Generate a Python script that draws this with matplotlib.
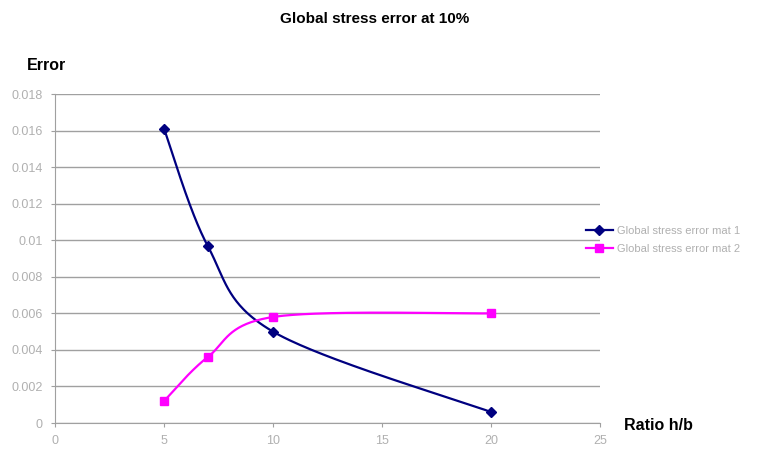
import numpy as np
import matplotlib
matplotlib.use("Agg")
import matplotlib.pyplot as plt
from matplotlib.lines import Line2D

plt.rcParams['font.family'] = ['Liberation Sans', 'DejaVu Sans']

ratio = [5, 7, 10, 20]
err_mat1 = [0.0161, 0.0097, 0.0050, 0.0006]
err_mat2 = [0.0012, 0.0036, 0.0058, 0.0060]
series_names = ["Global stress error mat 1", "Global stress error mat 2"]
y_ticks = [0, 0.002, 0.004, 0.006, 0.008, 0.01, 0.012, 0.014, 0.016, 0.018]
y_tick_labels = ["0", "0.002", "0.004", "0.006", "0.008", "0.01", "0.012", "0.014", "0.016", "0.018"]
x_ticks = [0, 5, 10, 15, 20, 25]

X_MAX, Y_MAX = 25, 0.018
AX_W_PX, AX_H_PX = 545, 329


def smooth(xs, ys, n=60):
    """Smoothed line through every point, built in screen proportions."""
    sx = np.asarray(xs, float) / X_MAX * AX_W_PX
    sy = np.asarray(ys, float) / Y_MAX * AX_H_PX
    px = np.concatenate([[sx[0]], sx, [sx[-1]]])
    py = np.concatenate([[sy[0]], sy, [sy[-1]]])
    outx, outy = [], []
    for i in range(1, len(px) - 2):
        p0 = np.array([px[i], py[i]])
        p3 = np.array([px[i + 1], py[i + 1]])
        c1 = p0 + (np.array([px[i + 1], py[i + 1]]) - np.array([px[i - 1], py[i - 1]])) / 6
        c2 = p3 - (np.array([px[i + 2], py[i + 2]]) - np.array([px[i], py[i]])) / 6
        t = np.linspace(0, 1, n)[:, None]
        b = ((1 - t) ** 3) * p0 + 3 * ((1 - t) ** 2) * t * c1 + 3 * (1 - t) * t ** 2 * c2 + t ** 3 * p3
        outx.extend(b[:, 0])
        outy.extend(b[:, 1])
    return np.array(outx) / AX_W_PX * X_MAX, np.array(outy) / AX_H_PX * Y_MAX


fig = plt.figure(figsize=(7.58, 4.53), dpi=100)
ax = fig.add_axes([55 / 758, 1 - 423 / 453, AX_W_PX / 758, AX_H_PX / 453])

navy = "#000080"
magenta = "#FF00FF"
grid_c = "#A0A0A0"
text_c = "#B0B0B0"

sx, sy = smooth(ratio, err_mat1)
ax.plot(sx, sy, color=navy, lw=1.6, zorder=3)
ax.plot(ratio, err_mat1, ls="none", marker="D", ms=5.5, color=navy, zorder=4)
sx, sy = smooth(ratio, err_mat2)
ax.plot(sx, sy, color=magenta, lw=1.6, zorder=3)
ax.plot(ratio, err_mat2, ls="none", marker="s", ms=6, color=magenta, zorder=4)

ax.set_xlim(0, X_MAX)
ax.set_ylim(0, Y_MAX)
ax.set_yticks(y_ticks)
ax.set_yticklabels(y_tick_labels)
ax.set_xticks(x_ticks)
ax.grid(axis="y", color=grid_c, lw=1)
ax.set_axisbelow(True)
for s in ["top", "right"]:
    ax.spines[s].set_visible(False)
for s in ["left", "bottom"]:
    ax.spines[s].set_color(grid_c)
ax.tick_params(axis="both", colors=grid_c, labelcolor=text_c, labelsize=9, length=3, pad=6)

fig.text(375 / 758, 1 - 19 / 453, "Global stress error at 10%", ha="center", va="center",
         fontsize=11, fontweight="bold")
fig.text(47 / 758, 1 - 65 / 453, "Error", ha="center", va="center", fontsize=11.5, fontweight="bold")
fig.text(658 / 758, 1 - 425 / 453, "Ratio h/b", ha="center", va="center", fontsize=11.5, fontweight="bold")

handles = [Line2D([], [], color=navy, marker="D", ms=5, lw=1.6),
           Line2D([], [], color=magenta, marker="s", ms=5.5, lw=1.6)]
leg = fig.legend(handles, series_names, loc="center left", bbox_to_anchor=(576 / 758, 1 - 240 / 453),
                 frameon=False, fontsize=8, handlelength=2.4, handletextpad=0.35, labelspacing=0.7,
                 labelcolor=text_c)

fig.savefig("out.png", dpi=100)
